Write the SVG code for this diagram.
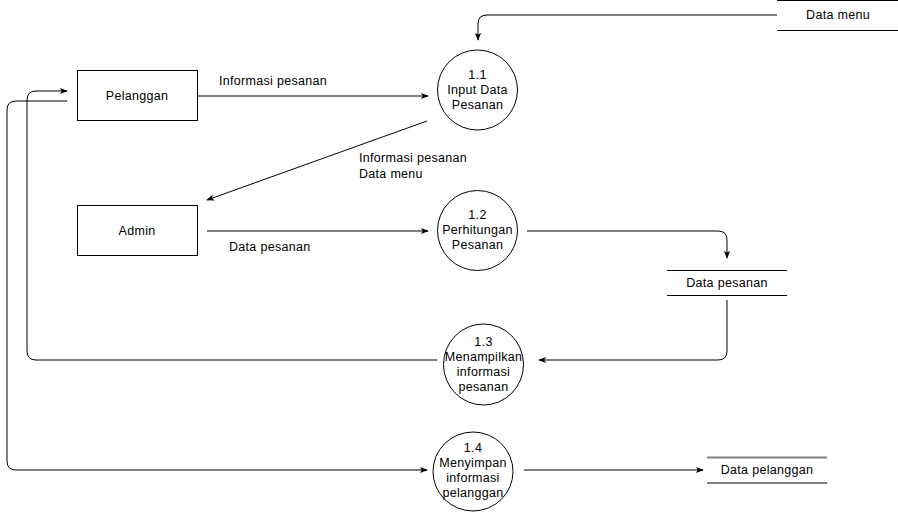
<svg xmlns="http://www.w3.org/2000/svg" width="898" height="512" viewBox="0 0 898 512">
  <defs>
    <marker id="arrow" viewBox="0 0 10 10" refX="9" refY="5" markerWidth="8" markerHeight="8" markerUnits="userSpaceOnUse" orient="auto">
      <path d="M0,1 L10,5 L0,9 L2.5,5 Z" fill="#000"/>
    </marker>
    <style>
      text { font-family: "Liberation Sans", Arial, sans-serif; font-size: 12.5px; letter-spacing: 0.3px; fill: #000; }
      .c { text-anchor: middle; dominant-baseline: central; }
      .l { dominant-baseline: central; }
      .box { fill: #fff; stroke: #000; stroke-width: 1; }
      .proc { fill: #fff; stroke: #000; stroke-width: 1; }
      .store { stroke: #000; stroke-width: 1; }
      .store-grey { stroke: #808080; stroke-width: 2; }
      .flow { fill: none; stroke: #000; stroke-width: 1; }
      .flow-a { fill: none; stroke: #000; stroke-width: 1; marker-end: url(#arrow); }
    </style>
  </defs>
  <rect width="898" height="512" fill="#fff"/>

  <!-- connectors -->
  <g id="connectors">
    <path class="flow-a" d="M777,15 L487,15 Q478,15 478,24 L478,40"/>
    <path class="flow-a" d="M197,96 L428,96"/>
    <path class="flow-a" d="M427,121 L207,200"/>
    <path class="flow-a" d="M207,231 L428,231"/>
    <path class="flow-a" d="M527,231 L718,231 Q727,231 727,240 L727,258"/>
    <path class="flow-a" d="M727,300 L727,351 Q727,360 718,360 L539,360"/>
    <path class="flow-a" d="M437,360 L36,360 Q27,360 27,351 L27,100 Q27,91 36,91 L67,91"/>
    <path class="flow-a" d="M67,101 L16,101 Q7,101 7,110 L7,461 Q7,470 16,470 L427,470"/>
    <path class="flow-a" d="M524,470 L703,470"/>
    <text class="l" x="219" y="81">Informasi pesanan</text>
    <text class="l" x="359" y="158">Informasi pesanan</text>
    <text class="l" x="359" y="174">Data menu</text>
    <text class="l" x="229" y="247">Data pesanan</text>
  </g>

  <!-- external entities -->
  <g id="pelanggan">
    <rect class="box" x="77.5" y="70.5" width="120" height="50"/>
    <text class="c" x="137" y="96">Pelanggan</text>
  </g>
  <g id="admin">
    <rect class="box" x="77.5" y="205.5" width="120" height="50"/>
    <text class="c" x="137" y="231">Admin</text>
  </g>

  <!-- processes -->
  <g id="p1-1">
    <ellipse class="proc" cx="477.5" cy="90" rx="40" ry="40"/>
    <text class="c" x="477.5" y="75">1.1</text>
    <text class="c" x="477.5" y="90">Input Data</text>
    <text class="c" x="477.5" y="105">Pesanan</text>
  </g>
  <g id="p1-2">
    <ellipse class="proc" cx="477.5" cy="230.5" rx="40" ry="40"/>
    <text class="c" x="477.5" y="215">1.2</text>
    <text class="c" x="477.5" y="230">Perhitungan</text>
    <text class="c" x="477.5" y="245">Pesanan</text>
  </g>
  <g id="p1-3">
    <ellipse class="proc" cx="483.5" cy="364.5" rx="40" ry="40.5"/>
    <text class="c" x="483.5" y="342">1.3</text>
    <text class="c" x="483.5" y="357">Menampilkan</text>
    <text class="c" x="483.5" y="372">informasi</text>
    <text class="c" x="483.5" y="387">pesanan</text>
  </g>
  <g id="p1-4">
    <ellipse class="proc" cx="473" cy="471.5" rx="40" ry="39.5"/>
    <text class="c" x="473" y="448">1.4</text>
    <text class="c" x="473" y="463">Menyimpan</text>
    <text class="c" x="473" y="478">informasi</text>
    <text class="c" x="473" y="493">pelanggan</text>
  </g>

  <!-- data stores -->
  <g id="store-data-menu">
    <line class="store" x1="777" y1="0.5" x2="898" y2="0.5"/>
    <line class="store" x1="777" y1="30.5" x2="898" y2="30.5"/>
    <text class="c" x="838" y="15">Data menu</text>
  </g>
  <g id="store-data-pesanan">
    <line class="store" x1="667" y1="270.5" x2="787" y2="270.5"/>
    <line class="store" x1="667" y1="295.5" x2="787" y2="295.5"/>
    <text class="c" x="727" y="283">Data pesanan</text>
  </g>
  <g id="store-data-pelanggan">
    <line class="store-grey" x1="707" y1="457.5" x2="827" y2="457.5"/>
    <line class="store-grey" x1="707" y1="483" x2="827" y2="483"/>
    <text class="c" x="767" y="470">Data pelanggan</text>
  </g>
</svg>
